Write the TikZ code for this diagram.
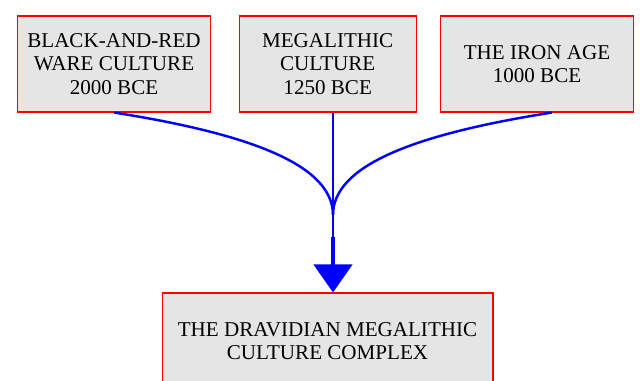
\documentclass[tikz,border=0pt]{standalone}
\usepackage{fontspec}
\setmainfont{Liberation Serif}
\usetikzlibrary{arrows.meta}

\definecolor{boxgray}{HTML}{E5E5E5}

\begin{document}
\begin{tikzpicture}[
    x=0.02cm, y=-0.02cm,
    every node/.style={
        draw=red,
        fill=boxgray,
        line width=0.6pt,
        align=center,
        font=\fontsize{12}{13.2}\selectfont,
        minimum height=1.92cm
    },
    flow/.style={draw=blue, line width=1.4pt}
]
\useasboundingbox (0,0) rectangle (642,381);
\clip (0,0) rectangle (642,381);

% Sources
\node[minimum width=3.86cm] (bar) at (114,64) {BLACK-AND-RED\\WARE CULTURE\\2000 BCE};
\node[minimum width=3.54cm] (mega) at (327.7,64) {MEGALITHIC\\CULTURE\\1250 BCE};
\node[minimum width=3.86cm] (iron) at (537,64) {THE IRON AGE\\1000 BCE};

% Target
\node[minimum width=6.62cm] (dravid) at (327.5,341) {THE DRAVIDIAN MEGALITHIC\\CULTURE COMPLEX};

\coordinate (merge) at (333,215);
\coordinate (shaft) at (333,237);

% Edges
\draw[flow] (bar.south) .. controls (250,134) and (333,165) .. (merge);
\draw[flow] (mega.south -| merge) -- (merge);
\draw[flow] ([xshift=0.3cm]iron.south) .. controls (416,134) and (333,165) .. (merge);
\draw[flow] (merge) -- (shaft);
\draw[draw=blue, line width=2.6pt, -{Triangle[length=0.56cm, width=0.76cm, fill=blue]}]
    (shaft) -- (dravid.north -| shaft);

\end{tikzpicture}
\end{document}
